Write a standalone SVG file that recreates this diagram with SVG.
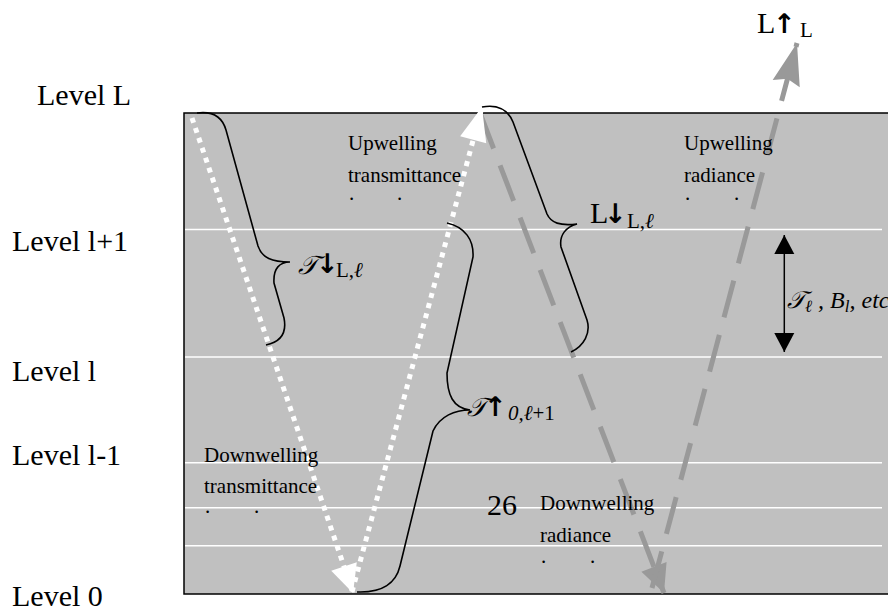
<svg xmlns="http://www.w3.org/2000/svg" width="888" height="609" viewBox="0 0 888 609">
<style>
text{font-family:"Liberation Serif","Times New Roman","DejaVu Serif",serif;fill:#000}
.lvl{font-size:30px}
.lbl{font-size:21px}
.big{font-size:30px}
.sub{font-size:21px}
.it{font-style:italic}
.scr{font-size:26px;font-style:italic}
.arr{font-family:"DejaVu Sans",sans-serif;font-size:27px;font-weight:bold;font-style:normal}
.layer{stroke:#fff;stroke-width:1.5}
.brace{fill:none;stroke:#000;stroke-width:1.6}
.wdot{fill:none;stroke:#fff;stroke-width:5;stroke-dasharray:5 5.5}
.gdash{fill:none;stroke:#999;stroke-width:5;stroke-dasharray:38 18}
.blk{stroke:#000;stroke-width:1.5}
</style>
<defs>
<marker id="wHead" markerUnits="userSpaceOnUse" markerWidth="40" markerHeight="40" refX="28" refY="13.5" orient="auto" overflow="visible"><path d="M0,0 L28,13.5 L0,27 Z" fill="#fff"/></marker>
<marker id="wHeadL" markerUnits="userSpaceOnUse" markerWidth="40" markerHeight="40" refX="34" refY="13.5" orient="auto" overflow="visible"><path d="M0,0 L34,13.5 L0,27 Z" fill="#fff"/></marker>
<marker id="gHead" markerUnits="userSpaceOnUse" markerWidth="40" markerHeight="40" refX="28" refY="13.5" orient="auto" overflow="visible"><path d="M0,0 L28,13.5 L0,27 Z" fill="#999"/></marker>
<marker id="gHeadL" markerUnits="userSpaceOnUse" markerWidth="50" markerHeight="40" refX="42" refY="14" orient="auto" overflow="visible"><path d="M0,0 L42,14 L0,28 L5,14 Z" fill="#999"/></marker>
<marker id="bHead" markerUnits="userSpaceOnUse" markerWidth="30" markerHeight="30" refX="19" refY="10" orient="auto-start-reverse" overflow="visible"><path d="M0,0 L19,10 L0,20 Z" fill="#000"/></marker>
</defs>

<g id="atmosphere">
<rect x="184" y="113" width="712" height="481" fill="#c0c0c0" stroke="#000" stroke-width="1.5"/>
<line class="layer" x1="185" y1="229.5" x2="882" y2="229.5"/>
<line class="layer" x1="185" y1="357" x2="882" y2="357"/>
<line class="layer" x1="185" y1="462.7" x2="882" y2="462.7"/>
<line class="layer" x1="185" y1="507.7" x2="882" y2="507.7"/>
<line class="layer" x1="185" y1="545.7" x2="882" y2="545.7"/>
</g>

<g id="level-labels">
<text class="lvl" x="37" y="105">Level L</text>
<text class="lvl" x="12" y="251">Level l+1</text>
<text class="lvl" x="12" y="381">Level l</text>
<text class="lvl" x="12" y="465">Level l-1</text>
<text class="lvl" x="12" y="606">Level 0</text>
</g>

<g id="connectors">
<path id="down-radiance" class="gdash" d="M480,113 L664,593" marker-end="url(#gHead)"/>
<path id="up-radiance" class="gdash" d="M652,588 L797,43" marker-end="url(#gHeadL)"/>
<path id="down-transmittance" class="wdot" d="M192,118 L353,593" marker-end="url(#wHead)"/>
<path id="up-transmittance" class="wdot" d="M352,592 L482,107" marker-end="url(#wHeadL)"/>
<path id="layer-arrow" class="blk" d="M784.3,235 L784.3,352" marker-start="url(#bHead)" marker-end="url(#bHead)"/>
</g>

<g id="brace-down-trans">
<path class="brace" d="M197,113 C212,111 222,116 226,130 L258,246 C262,258 272,262 290,262 C280,262 273,268 274,283 L284,318 C287,333 280,342 266,345"/>
<text class="big" x="298" y="274"><tspan class="scr">𝒯</tspan><tspan class="arr" x="316" y="273">↓</tspan><tspan class="sub" x="336" y="277">L,</tspan><tspan class="sub it">ℓ</tspan></text>
</g>

<g id="brace-down-rad">
<path class="brace" d="M482,107 C498,104 508,110 513,122 L547,214 C551,223 560,226 577,224 C566,227 559,235 561,247 L587,320 C591,333 584,346 571,352"/>
<text class="big" x="590" y="223"><tspan>L</tspan><tspan class="arr" x="604" y="223">↓</tspan><tspan class="sub" x="627" y="228">L,</tspan><tspan class="sub it">ℓ</tspan></text>
</g>

<g id="brace-up-trans">
<path class="brace" d="M447,223 C465,227 474,240 473,257 L447,373 C447,395 453,408 470,410 C455,410 440,416 433,431 L400,566 C396,583 382,593 357,592"/>
<text class="big" x="467" y="416"><tspan class="scr">𝒯</tspan><tspan class="arr" x="484" y="416">↑</tspan><tspan class="sub it" x="508" y="420">0,ℓ</tspan><tspan class="sub">+1</tspan></text>
</g>

<g id="top-radiance">
<text class="big" x="757" y="33"><tspan>L</tspan><tspan class="arr" x="773" y="33">↑</tspan><tspan class="sub" x="800" y="37">L</tspan></text>
</g>

<g id="layer-props">
<text class="it" style="font-size:24px" x="787" y="308"><tspan>𝒯</tspan><tspan style="font-size:17px" y="312">ℓ</tspan><tspan y="308"> , B</tspan><tspan style="font-size:17px" y="312">l</tspan><tspan y="308">, etc.</tspan></text>
</g>

<g id="label-up-trans">
<text class="lbl" x="348" y="150">Upwelling</text>
<text class="lbl" x="348" y="181.7">transmittance</text>
<text class="lbl" y="200"><tspan x="349">.</tspan><tspan x="397">.</tspan></text>
</g>

<g id="label-up-rad">
<text class="lbl" x="684" y="150">Upwelling</text>
<text class="lbl" x="684" y="181.7">radiance</text>
<text class="lbl" y="200"><tspan x="685">.</tspan><tspan x="734">.</tspan></text>
</g>

<g id="label-down-trans">
<text class="lbl" x="204" y="461.7">Downwelling</text>
<text class="lbl" x="204" y="493.3">transmittance</text>
<text class="lbl" y="513"><tspan x="205">.</tspan><tspan x="254">.</tspan></text>
</g>

<g id="label-down-rad">
<text class="big" x="487" y="515">26</text>
<text class="lbl" x="540" y="510">Downwelling</text>
<text class="lbl" x="540" y="541.7">radiance</text>
<text class="lbl" y="563"><tspan x="541">.</tspan><tspan x="590">.</tspan></text>
</g>
</svg>
